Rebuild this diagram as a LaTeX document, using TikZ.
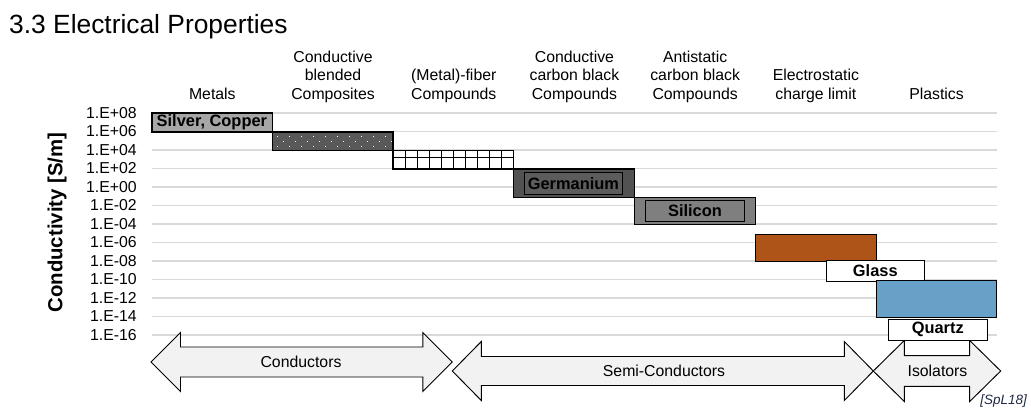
\documentclass[tikz,border=0pt]{standalone}
\usepackage{fontspec}
\setmainfont{Liberation Sans}
\usepackage{xcolor}

\definecolor{gridGray}{HTML}{D9D9D9}
\definecolor{silverGray}{HTML}{A6A6A6}
\definecolor{blendGray}{HTML}{595959}
\definecolor{germOuter}{HTML}{525252}
\definecolor{germInner}{HTML}{5C5C5C}
\definecolor{siliGray}{HTML}{7F7F7F}
\definecolor{esdOrange}{HTML}{AF5418}
\definecolor{plastBlue}{HTML}{67A1C8}
\definecolor{bandGray}{HTML}{F2F2F2}
\definecolor{refBlue}{HTML}{1F2A44}

% double block arrow: left tip x, right tip x, centre y, head length, shaft half, head half
\newcommand{\bandArrow}[6]{%
  \filldraw[band] (#1,#3) -- ({#1+#4},{#3-#6}) -- ({#1+#4},{#3-#5}) -- ({#2-#4},{#3-#5})
    -- ({#2-#4},{#3-#6}) -- (#2,#3) -- ({#2-#4},{#3+#6}) -- ({#2-#4},{#3+#5})
    -- ({#1+#4},{#3+#5}) -- ({#1+#4},{#3+#6}) -- cycle;}

\begin{document}
\begin{tikzpicture}[x=0.03cm,y=-0.03cm,
    gridLine/.style={draw=gridGray, line width=0.9pt},
    bar/.style={draw=black, line width=1pt},
    barLabel/.style={font=\fontsize{14}{16}\selectfont\bfseries, inner sep=0pt},
    header/.style={font=\fontsize{13.5}{15.6}\selectfont, align=center, anchor=south,
      inner sep=0pt, execute at end node=\strut},
    tick/.style={font=\fontsize{13.5}{16}\selectfont, anchor=east, inner sep=0pt},
    bandText/.style={font=\fontsize{13.5}{16}\selectfont, inner sep=0pt},
    band/.style={fill=bandGray, draw=black, line width=0.8pt}]

    \useasboundingbox (0,0) rectangle (1031,409);

    \def\xZero{152};   % left edge of the chart
    \def\xEnd{997};    % right edge of the chart
    \def\yZero{113};   % line of 1.E+08
    \def\rowH{18.5};   % one step of two decades
    \def\colW{120.7};  % width of one material column

    % title
    \node[anchor=base west, inner sep=0pt, font=\fontsize{22.5}{26}\selectfont] (title) at (9,33) {3.3 Electrical Properties};

    %%% grid and axis %%%
    \foreach \lbl [count=\k from 0] in {+08,+06,+04,+02,+00,-02,-04,-06,-08,-10,-12,-14,-16} {
        \draw[gridLine] (\xZero,{\yZero+\rowH*\k}) -- (\xEnd,{\yZero+\rowH*\k});
        \node[tick] (tick\k) at (137,{\yZero+\rowH*\k}) {1.E\lbl};
    }
    \node[rotate=90, inner sep=0pt, font=\fontsize{17.4}{20}\selectfont\bfseries] (yLabel) at (57,222.5) {Conductivity [S/m]};

    %%% column headers %%%
    \foreach \txt [count=\c from 0] in {Metals, {Conductive\\blended\\Composites}, {(Metal)-fiber\\Compounds},
        {Conductive\\carbon black\\Compounds}, {Antistatic\\carbon black\\Compounds},
        {Electrostatic\\charge limit}, Plastics}
        \node[header] (head\c) at ({\xZero+\colW*(\c+0.5)},104.8) {\txt};

    %%% bars %%%
    % metals
    \filldraw[bar, fill=silverGray] (152,113) rectangle (272.5,132);
    \node[barLabel, anchor=west] (silver) at (156.5,122.5) {Silver, Copper};

    % blended composites, dotted
    \filldraw[bar, fill=blendGray] (272.5,132) rectangle (393,150.5);
    \foreach \r/\off in {0/0,1/6,2/0}
        \foreach \c in {0,...,9}
            \fill[white] ({276.5+\off+12*\c},{135.5+5*\r}) rectangle +(1.4,1.4);

    % fiber compounds, grid
    \draw[bar, line width=0.8pt] (393,157.3) -- (513.5,157.3);
    \foreach \i in {1,...,9}
        \draw[line width=0.8pt] ({393+12.05*\i},150.5) -- ({393+12.05*\i},169);
    \draw[bar] (393,150.5) rectangle (513.5,169);

    % germanium
    \filldraw[bar, fill=germOuter] (513.5,169) rectangle (634.3,197.3);
    \node[barLabel, draw=black, line width=0.8pt, fill=germInner, minimum width=98.7*0.03cm,
        minimum height=22*0.03cm] (germ) at (573.4,183.3) {Germanium};

    % silicon
    \filldraw[bar, fill=siliGray] (634.3,197.3) rectangle (755.5,224.3);
    \node[barLabel, draw=black, line width=0.8pt, fill=siliGray, minimum width=99.4*0.03cm,
        minimum height=21.4*0.03cm] (sili) at (695,211) {Silicon};

    % electrostatic charge limit
    \filldraw[bar, fill=esdOrange] (755.5,234.3) rectangle (876.5,261.3);

    % glass
    \node[barLabel, draw=black, line width=0.8pt, fill=white, minimum width=98*0.03cm,
        minimum height=21*0.03cm] (glass) at (875.3,270.8) {Glass};

    % plastics
    \filldraw[bar, fill=plastBlue] (876.5,280.3) rectangle (996.5,317.3);

    %%% bands %%%
    \bandArrow{151}{452.3}{362}{29.5}{15}{29.5}
    \bandArrow{452.3}{873.3}{371}{29}{14.5}{29.5}
    \bandArrow{873.3}{1000.7}{371}{31}{15.3}{30.5}
    \node[bandText] (cond) at (301,362) {Conductors};
    \node[bandText] (semi) at (664,371) {Semi-Conductors};
    \node[bandText] (iso) at (937.5,371) {Isolators};

    % quartz
    \node[barLabel, draw=black, line width=0.8pt, fill=white, minimum width=99*0.03cm,
        minimum height=20.7*0.03cm] (quartz) at (937.8,329.7) {Quartz};

    % source
    \node[anchor=base east, inner sep=0pt, text=refBlue, font=\fontsize{11.5}{13}\selectfont\itshape] (src) at (1027,404) {[SpL18]};
\end{tikzpicture}
\end{document}
